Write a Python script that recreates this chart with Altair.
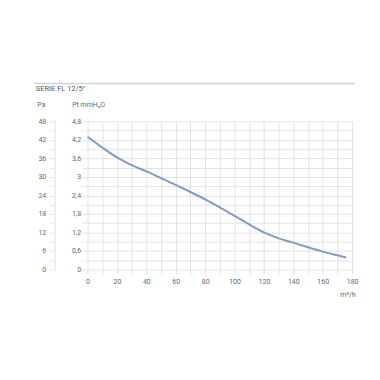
import altair as alt
import pandas as pd

flow = [0, 10, 20, 30, 40, 50, 60, 70, 80, 90, 100, 110, 120, 130, 140, 150, 160, 170, 176]
pressure = [4.30, 3.95, 3.63, 3.38, 3.18, 2.96, 2.74, 2.51, 2.27, 2.01, 1.74, 1.46, 1.20, 1.01, 0.87, 0.72, 0.58, 0.46, 0.39]

x_ticks = list(range(0, 181, 10))
pt_ticks = [round(i * 0.3, 1) for i in range(17)]
pa_ticks = list(range(0, 49, 3))

df = pd.DataFrame({"flow": flow, "pt": pressure})
df["pa"] = df["pt"] * 10

FONT = "Roboto"
GRID = "#e3e3e3"
TXT = "#666666"

base = alt.Chart(df)

x_enc = alt.X(
    "flow:Q",
    scale=alt.Scale(domain=[0, 180], nice=False),
    axis=alt.Axis(
        values=x_ticks,
        labelExpr="datum.value % 20 == 0 ? datum.label : ''",
        grid=True, gridColor=GRID, gridWidth=1,
        domain=False, ticks=True, tickColor=GRID, tickSize=5,
        labelFont=FONT, labelFontSize=7, labelColor=TXT, labelPadding=3,
        labelFlush=False, labelOverlap=False,
        title="m³/h", titleFont=FONT, titleFontSize=7, titleFontWeight="normal",
        titleColor=TXT, titleAlign="right", titleAnchor="end",
        titleX=269, titleY=25, titleBaseline="middle",
    ),
)

line = base.mark_line(color="#7f9bcb", strokeWidth=2, interpolate="monotone").encode(
    x=x_enc,
    y=alt.Y(
        "pt:Q",
        scale=alt.Scale(domain=[0, 4.8], nice=False),
        axis=alt.Axis(
            orient="left", values=pt_ticks,
            labelExpr="(round(datum.value*10) % 6 == 0) ? replace(format(datum.value, '.1~f'), '.', ',') : ''",
            grid=True, gridColor=GRID, gridWidth=1,
            domain=False, ticks=True, tickColor=GRID, tickSize=6,
            labelFont=FONT, labelFontSize=7, labelColor=TXT, labelPadding=1,
            labelOverlap=False,
            title="Pt mmH₂O", titleFont=FONT, titleFontSize=7, titleFontWeight="normal",
            titleColor=TXT, titleAngle=0, titleAlign="left", titleBaseline="middle",
            titleX=-16, titleY=-17,
        ),
    ),
)

pa_layer = base.mark_point(opacity=0).encode(
    y=alt.Y(
        "pa:Q",
        scale=alt.Scale(domain=[0, 48], nice=False),
        axis=alt.Axis(
            orient="left", offset=33, values=pa_ticks,
            labelExpr="datum.value % 6 == 0 ? datum.label : ''",
            grid=False, domain=True, domainColor=GRID, ticks=True, tickColor=GRID, tickSize=5,
            labelFont=FONT, labelFontSize=7, labelColor=TXT, labelPadding=4,
            labelOverlap=False,
            title="Pa", titleFont=FONT, titleFontSize=7, titleFontWeight="normal",
            titleColor=TXT, titleAngle=0, titleAlign="left", titleBaseline="middle",
            titleX=-18, titleY=-17,
        ),
    ),
)

top_rule = alt.Chart(pd.DataFrame({"a": [0]})).mark_rule(color="#c8d5e2", strokeWidth=1.5).encode(
    x=alt.value(-54), x2=alt.value(269), y=alt.value(-38)
)

title_txt = alt.Chart(pd.DataFrame({"a": [0]})).mark_text(
    text='SERIE FL 12/5"', font=FONT, fontSize=7.5, color="#555555", align="left", baseline="middle"
).encode(x=alt.value(-52), y=alt.value(-32))

chart = alt.layer(line, pa_layer, top_rule, title_txt).resolve_scale(y="independent").properties(
    width=266, height=149,
    autosize=alt.AutoSizeParams(type="none"),
    padding={"left": 80, "top": 113, "right": 20, "bottom": 80},
).configure_view(stroke=None)

chart.save("out.html", embed_options={"renderer": "svg", "actions": False})
